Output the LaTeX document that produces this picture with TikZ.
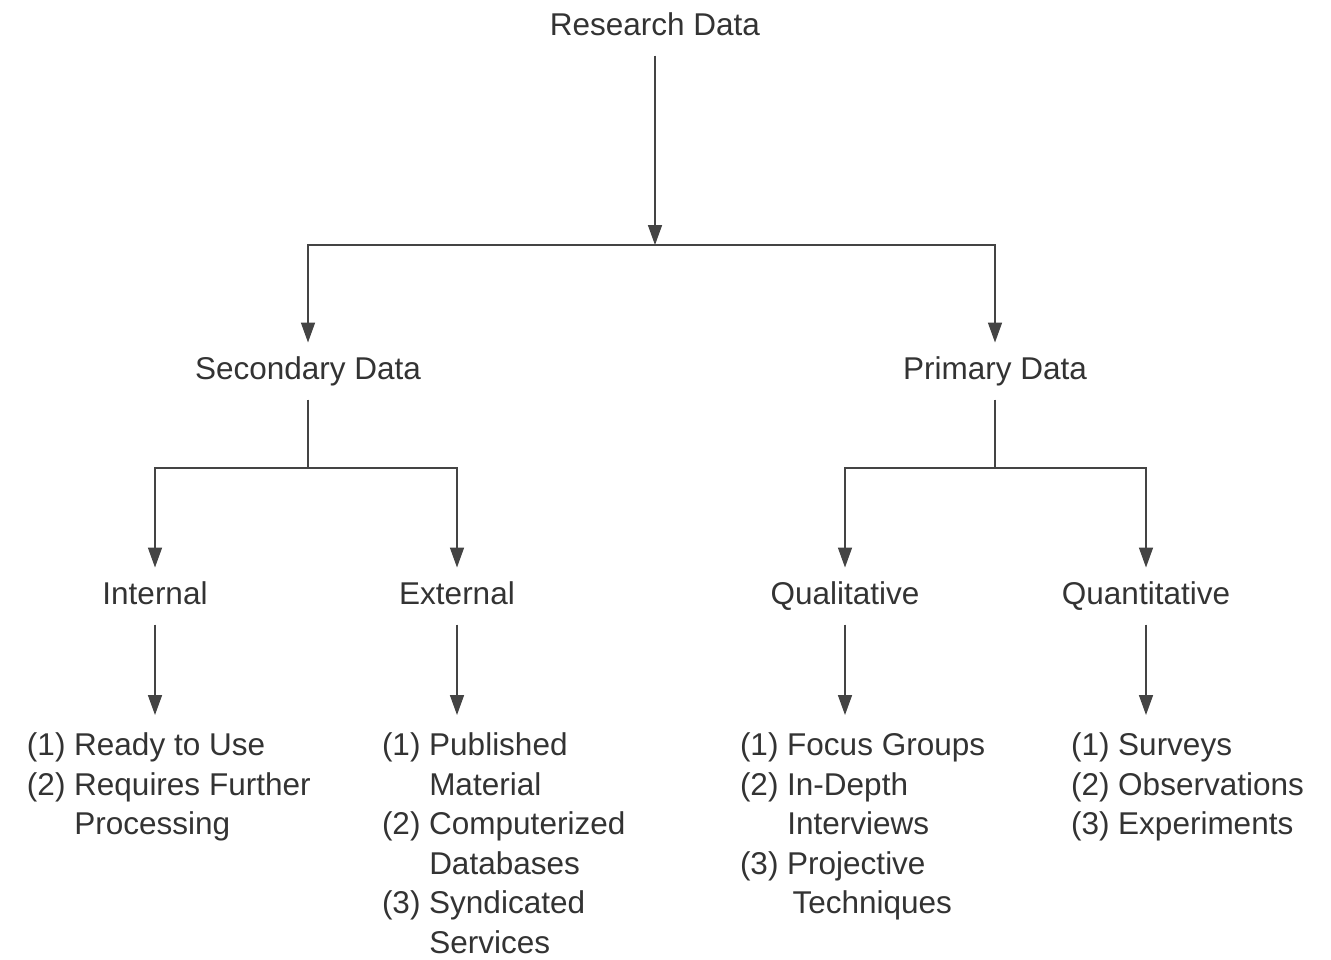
\documentclass[tikz,border=0pt]{standalone}
\usepackage{fontspec}
\setmainfont{Liberation Sans}
\usetikzlibrary{arrows.meta}
\definecolor{ink}{HTML}{333333}
\definecolor{wire}{HTML}{444444}
\begin{document}
\begin{tikzpicture}[x=1pt,y=-1pt,
  lbl/.style={inner sep=0pt, outer sep=0pt, text=ink, font=\fontsize{31.5}{40}\selectfont,
              text height=22pt, text depth=7pt},
  lst/.style={inner sep=0pt, outer sep=0pt, text=ink, anchor=north west,
              font=\fontsize{31.5}{39.5}\selectfont},
  wireline/.style={draw=wire, line width=1.6pt},
  arr/.style={wireline, -{Triangle[width=14pt,length=20pt]}},
  fromlbl/.style={shorten <=13pt},
  tolbl/.style={shorten >=15pt}
]
\useasboundingbox (0,0) rectangle (1331,959);
\fill[white] (0,0) rectangle (1331,959);

\node[lbl] (rd) at (655,28) {Research Data};
\node[lbl] (sd) at (308,372) {Secondary Data};
\node[lbl] (pd) at (995,372) {Primary Data};
\node[lbl] (in) at (155,597) {Internal};
\node[lbl] (ex) at (457,597) {External};
\node[lbl] (ql) at (845,597) {Qualitative};
\node[lbl] (qn) at (1146,597) {Quantitative};

\node[lst] (l1) at (27,728) {\begin{tabular}{@{}l@{ }l@{}}(1)&Ready to Use\\(2)&Requires Further\\&Processing\end{tabular}};
\node[lst] (l2) at (382,728) {\begin{tabular}{@{}l@{ }l@{}}(1)&Published\\&Material\\(2)&Computerized\\&Databases\\(3)&Syndicated\\&Services\end{tabular}};
\node[lst] (l3) at (740,728) {\begin{tabular}{@{}l@{ }l@{}}(1)&Focus Groups\\(2)&In-Depth\\&Interviews\\(3)&Projective\\&\,Techniques\end{tabular}};
\node[lst] (l4) at (1071,728) {\begin{tabular}{@{}l@{ }l@{}}(1)&Surveys\\(2)&Observations\\(3)&Experiments\end{tabular}};

\coordinate (j1) at (655,245);
\coordinate (j2) at (308,468);
\coordinate (j3) at (995,468);

\draw[arr,fromlbl] (rd) -- (j1);
\draw[arr,tolbl] (j1) -| (sd);
\draw[arr,tolbl] (j1) -| (pd);

\draw[wireline,fromlbl] (sd) -- (j2);
\draw[arr,tolbl] (j2) -| (in);
\draw[arr,tolbl] (j2) -| (ex);
\draw[wireline,fromlbl] (pd) -- (j3);
\draw[arr,tolbl] (j3) -| (ql);
\draw[arr,tolbl] (j3) -| (qn);

\draw[arr,fromlbl,shorten >=13pt] (in) -- (in |- l1.north);
\draw[arr,fromlbl,shorten >=13pt] (ex) -- (ex |- l2.north);
\draw[arr,fromlbl,shorten >=13pt] (ql) -- (ql |- l3.north);
\draw[arr,fromlbl,shorten >=13pt] (qn) -- (qn |- l4.north);
\end{tikzpicture}
\end{document}
